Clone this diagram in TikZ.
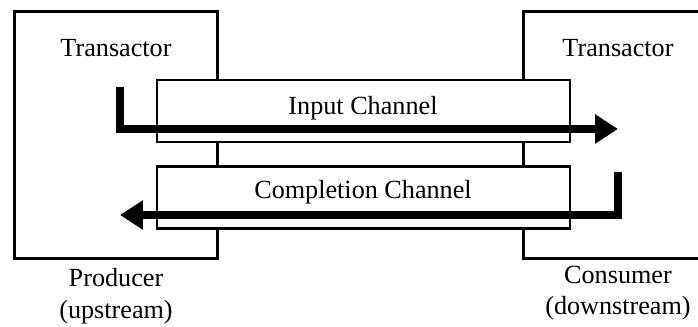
\documentclass[tikz,border=0pt]{standalone}
\usepackage{fontspec}
\setmainfont{Liberation Serif}
\usetikzlibrary{arrows.meta,positioning}
\tikzstyle{unit}=[draw, line width=1.6pt, fill=white, inner sep=0pt, anchor=north west]
\tikzstyle{chan}=[draw, line width=1.6pt, fill=white, inner sep=0pt,
  minimum width=8.26cm, minimum height=1.24cm]
\tikzstyle{flow}=[line width=4pt, -{Triangle[length=0.46cm,width=0.56cm]}]
\tikzstyle{lbl}=[align=center, inner sep=0pt]

\begin{document}
\begin{tikzpicture}[x=0.02cm,y=-0.02cm,font=\fontsize{14.9}{18}\selectfont]
\clip (0,0) rectangle (698,326);
% producer / consumer
\node[unit, minimum width=4.06cm, minimum height=4.94cm] (prod) at (13,10) {};
\node[unit, minimum width=4.4cm, minimum height=4.94cm] (cons) at (522,10) {};
\node[lbl] (prodT) at (116,48) {Transactor};
\node[lbl] (consT) at (618,48) {Transactor};
\node[lbl] (prodL) at (116,296) {Producer\\(upstream)};
\node[lbl] (consL) at (618,293) {Consumer\\(downstream)};
% channels
\node[chan] (inCh) at (363.5,111) {};
\node[chan] (cpCh) at (363.5,197.5) {};
\node[lbl] (inT) at (363,108) {Input Channel};
\node[lbl] (cpT) at (363,192) {Completion Channel};
% flows
\coordinate (inA) at (120,87);
\coordinate (inB) at (618,129);
\coordinate (cpA) at (618,172);
\coordinate (cpB) at (120,215);
\draw[flow] (inA) |- (inB);
\draw[flow] (cpA) |- (cpB);
\end{tikzpicture}
\end{document}
